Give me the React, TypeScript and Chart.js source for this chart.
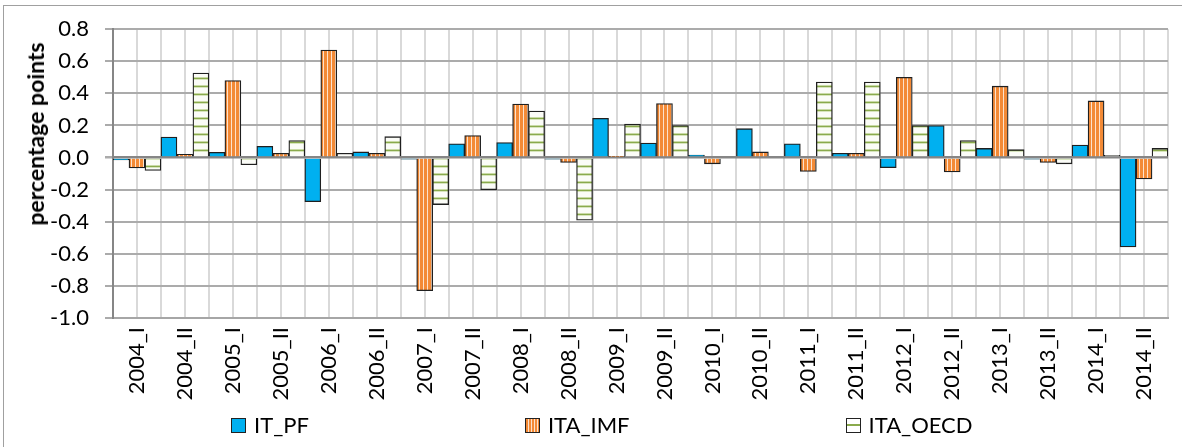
import React, { useEffect, useRef } from "react";
import { Chart, registerables } from "chart.js";

Chart.register(...registerables);

const categories = [
  "2004_I", "2004_II", "2005_I", "2005_II", "2006_I", "2006_II",
  "2007_I", "2007_II", "2008_I", "2008_II", "2009_I", "2009_II",
  "2010_I", "2010_II", "2011_I", "2011_II", "2012_I", "2012_II",
  "2013_I", "2013_II", "2014_I", "2014_II",
];

const itPf = [
  -0.015, 0.128, 0.033, 0.07, -0.275, 0.035,
  -0.01, 0.086, 0.094, -0.01, 0.245, 0.09,
  0.016, 0.18, 0.086, 0.027, -0.063, 0.2,
  0.057, -0.01, 0.078, -0.557,
];

const itaImf = [
  -0.065, 0.02, 0.48, 0.027, 0.67, 0.027,
  -0.83, 0.137, 0.333, -0.03, 0.005, 0.337,
  -0.039, 0.035, -0.086, 0.027, 0.5, -0.09,
  0.445, -0.03, 0.353, -0.133,
];

const itaOecd = [
  -0.08, 0.527, -0.045, 0.106, 0.027, 0.13,
  -0.293, -0.2, 0.29, -0.39, 0.208, 0.2,
  0, 0, 0.47, 0.47, 0.2, 0.106,
  0.049, -0.039, 0.014, 0.057,
];

const yTicks = { min: -1.0, max: 0.8, step: 0.2 };

const seriesNames = ["IT_PF", "ITA_IMF", "ITA_OECD"];

const FONT = "Lato, 'Noto Sans', sans-serif";

function orangePattern(): CanvasPattern | string {
  const c = document.createElement("canvas");
  c.width = 4;
  c.height = 4;
  const g = c.getContext("2d");
  if (!g) return "#F79646";
  g.fillStyle = "#F38A36";
  g.fillRect(0, 0, 3, 4);
  g.fillStyle = "#FDE2CC";
  g.fillRect(3, 0, 1, 4);
  return g.createPattern(c, "repeat") || "#F79646";
}

function greenPattern(): CanvasPattern | string {
  const c = document.createElement("canvas");
  c.width = 4;
  c.height = 8;
  const g = c.getContext("2d");
  if (!g) return "#9BBB59";
  g.fillStyle = "#FBFCF7";
  g.fillRect(0, 0, 4, 8);
  g.fillStyle = "#C9DAA6";
  g.fillRect(0, 5, 4, 1);
  g.fillStyle = "#8AAA4C";
  g.fillRect(0, 6, 4, 1);
  g.fillStyle = "#D7E4BD";
  g.fillRect(0, 7, 4, 1);
  return g.createPattern(c, "repeat") || "#9BBB59";
}

const centerLines = {
  id: "centerLines",
  beforeDraw(chart: any) {
    const x = chart.scales.x;
    const { top, bottom } = chart.chartArea;
    const ctx = chart.ctx;
    ctx.save();
    ctx.strokeStyle = "#D9D9D9";
    ctx.lineWidth = 2;
    for (let i = 0; i < categories.length; i++) {
      const px = Math.round(x.getPixelForValue(i));
      ctx.beginPath();
      ctx.moveTo(px, top);
      ctx.lineTo(px, bottom);
      ctx.stroke();
    }
    ctx.restore();
  },
};

export default function App() {
  const ref = useRef<HTMLCanvasElement | null>(null);

  useEffect(() => {
    if (!ref.current) return;
    const chart = new Chart(ref.current, {
      type: "bar",
      data: {
        labels: categories,
        datasets: [
          {
            label: seriesNames[0],
            data: itPf,
            backgroundColor: "#00B0F0",
            borderColor: "#1F1F1F",
            borderWidth: 1.3,
          },
          {
            label: seriesNames[1],
            data: itaImf,
            backgroundColor: orangePattern() as any,
            borderColor: "#1F1F1F",
            borderWidth: 1.3,
          },
          {
            label: seriesNames[2],
            data: itaOecd,
            backgroundColor: greenPattern() as any,
            borderColor: "#1F1F1F",
            borderWidth: 1.3,
          },
        ],
      },
      options: {
        animation: false,
        responsive: false,
        maintainAspectRatio: false,
        layout: { padding: { top: 24, right: 14, left: 0, bottom: 0 } },
        datasets: {
          bar: { categoryPercentage: 1.0, barPercentage: 1.0 },
        },
        plugins: {
          legend: { display: false },
          tooltip: { enabled: false },
          title: { display: false },
        },
        scales: {
          x: {
            afterFit: (s: any) => {
              s.height = 129;
            },
            grid: {
              offset: true,
              color: "#D9D9D9",
              lineWidth: 2,
              drawTicks: false,
            },
            border: { display: true, color: "#A6A6A6", width: 2 },
            ticks: {
              color: "#000",
              font: { family: FONT, size: 22 },
              minRotation: 90,
              maxRotation: 90,
              padding: 9,
              autoSkip: false,
            },
          },
          y: {
            min: yTicks.min,
            max: yTicks.max,
            afterFit: (s: any) => {
              s.width = 113;
            },
            ticks: {
              stepSize: yTicks.step,
              color: "#000",
              font: { family: FONT, size: 22 },
              padding: 16,
              callback: (v: any) => Number(v).toFixed(1),
            },
            grid: {
              color: (c: any) =>
                c.tick && Math.abs(c.tick.value) < 1e-9 ? "#868686" : "#ABABAB",
              lineWidth: (c: any) =>
                c.tick && Math.abs(c.tick.value) < 1e-9 ? 2.5 : 2,
              drawTicks: true,
              tickLength: 8,
              tickColor: "#ABABAB",
            },
            border: { display: true, color: "#868686", width: 2 },
          },
        },
      },
      plugins: [centerLines],
    });
    return () => chart.destroy();
  }, []);

  const boxBase: React.CSSProperties = {
    width: 13,
    height: 13,
    border: "1px solid #222",
    boxSizing: "content-box",
    marginRight: 8,
    flex: "0 0 auto",
  };

  const legendItems = [
    { name: seriesNames[0], style: { ...boxBase, background: "#00B0F0" } },
    {
      name: seriesNames[1],
      style: {
        ...boxBase,
        background:
          "repeating-linear-gradient(90deg, #F38A36 0px, #F38A36 2px, #FDE2CC 2px, #FDE2CC 3px)",
      },
    },
    {
      name: seriesNames[2],
      style: {
        ...boxBase,
        background:
          "linear-gradient(180deg, #fff 0px, #fff 5px, #8AAA4C 5px, #8AAA4C 7px, #fff 7px, #fff 13px)",
      },
    },
  ];

  return (
    <div
      style={{
        position: "fixed",
        left: 0,
        top: 0,
        width: 1182,
        height: 447,
        background: "#fff",
        overflow: "hidden",
      }}
    >
      <div
        style={{
          position: "absolute",
          left: 3,
          top: 5,
          width: 1200,
          height: 460,
          borderLeft: "1px solid #A0A0A0",
          borderTop: "1px solid #A0A0A0",
        }}
      />
      <canvas
        ref={ref}
        width={1182}
        height={447}
        style={{ position: "absolute", left: 0, top: 0, width: 1182, height: 447 }}
      />
      <div
        style={{
          position: "absolute",
          left: 35,
          top: 134,
          transform: "translate(-50%, -50%) rotate(-90deg)",
          whiteSpace: "nowrap",
          fontFamily: FONT,
          fontWeight: 700,
          fontSize: 23,
          color: "#000",
        }}
      >
        percentage points
      </div>
      <div
        style={{
          position: "absolute",
          left: 231,
          top: 411,
          display: "flex",
          alignItems: "center",
          gap: 216,
          fontFamily: FONT,
          fontSize: 22,
          color: "#000",
          lineHeight: "28px",
        }}
      >
        {legendItems.map((it) => (
          <div key={it.name} style={{ display: "flex", alignItems: "center" }}>
            <div style={it.style} />
            <span>{it.name}</span>
          </div>
        ))}
      </div>
    </div>
  );
}
